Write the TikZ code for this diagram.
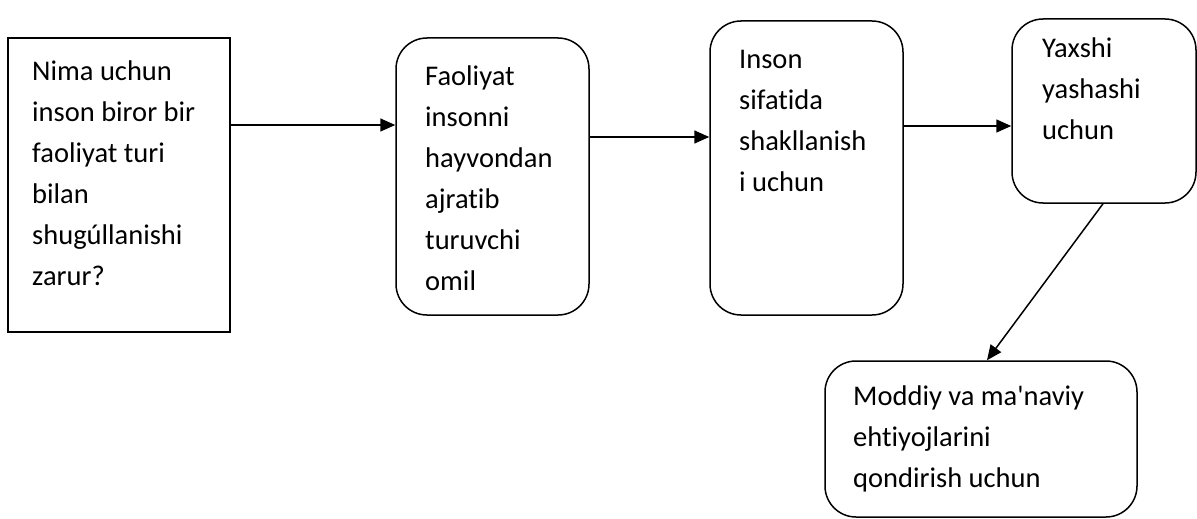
\documentclass[tikz,border=0pt]{standalone}
\usepackage{fontspec}
\setmainfont{Carlito}[Ligatures={NoCommon}]
\usepackage{tikz}
\usetikzlibrary{arrows.meta}

\begin{document}
\begin{tikzpicture}[x=1pt,y=-1pt,
    box/.style={draw,line width=1.5pt,inner sep=0pt},
    rbox/.style={box,rounded corners=31pt},
    txt/.style={anchor=north west,inner sep=0pt,align=left,
        font=\fontsize{28.5}{41}\selectfont},
    arr/.style={line width=1.5pt,-{Triangle[length=15pt,width=13pt]}}]

\useasboundingbox (0,0) rectangle (1197,519);

% Question box
\node[box,minimum width=222pt,minimum height=294pt] (savol) at (119,185) {};
\node[txt] (savol-t) at (32,51.3) {\strut Nima uchun\\inson biror bir\\faoliyat turi\\bilan\\shugúllanishi\\zarur?};

% Activity box
\node[rbox,minimum width=193pt,minimum height=277pt] (faol) at (492.5,176.5) {};
\node[txt] (faol-t) at (425,56.3) {\strut Faoliyat\\insonni\\hayvondan\\ajratib\\turuvchi\\omil};

% Forming box
\node[rbox,minimum width=193pt,minimum height=294pt] (shakl) at (806.5,168) {};
\node[txt] (shakl-t) at (739,39.3) {\strut Inson\\sifatida\\shakllanish\\i uchun};

% Good life box
\node[rbox,minimum width=184pt,minimum height=184pt] (yaxshi) at (1104,111) {};
\node[txt] (yaxshi-t) at (1042,28.3) {\strut Yaxshi\\yashashi\\uchun};

% Needs box
\node[rbox,minimum width=312pt,minimum height=156pt] (ehtiyoj) at (981,439) {};
\node[txt] (ehtiyoj-t) at (853,376.3) {\strut Moddiy va ma\textquotesingle naviy\\ehtiyojlarini\\qondirish uchun};

% Arrows
\draw[arr] (savol.east |- 0,125) -- (faol.west |- 0,125);
\draw[arr] (faol.east |- 0,137) -- (shakl.west |- 0,137);
\draw[arr] (shakl.east |- 0,126) -- (yaxshi.west |- 0,126);
\draw[arr] ([xshift=-1pt]yaxshi.south) -- ([xshift=6pt]ehtiyoj.north);

\end{tikzpicture}
\end{document}
